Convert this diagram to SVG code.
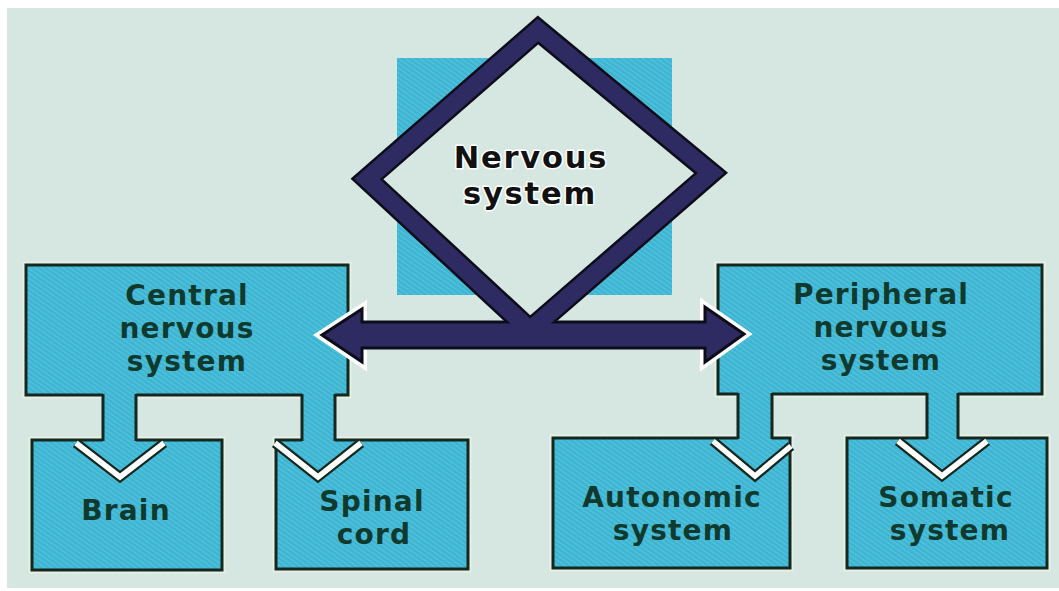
<svg xmlns="http://www.w3.org/2000/svg" width="1059" height="591" viewBox="0 0 1059 591">
<defs>
<pattern id="hatch" width="4" height="4" patternUnits="userSpaceOnUse" patternTransform="rotate(-55)">
<rect width="4" height="4" fill="#3db5d2"/>
<rect width="1.3" height="4" fill="#55c2dc"/>
</pattern>
<style>
.box{fill:url(#hatch);stroke:#14281f;stroke-width:3}
.halo{fill:none;stroke:#eef3e6;stroke-width:7;opacity:.7}
.stem{fill:url(#hatch);stroke:none}
.edge{fill:none;stroke:#14281f;stroke-width:3}
.vdark{fill:none;stroke:#14281f;stroke-width:10;stroke-linejoin:miter}
.vwhite{fill:none;stroke:#ffffff;stroke-width:5.5;stroke-linejoin:miter}
.lbl{font-family:"DejaVu Sans",sans-serif;font-weight:bold;font-size:28px;letter-spacing:1.2px;fill:#0f3a2d;text-anchor:middle}
.main{font-family:"DejaVu Sans",sans-serif;font-weight:bold;font-size:30.5px;letter-spacing:1.8px;fill:#111111;text-anchor:middle;stroke:#ffffff;stroke-width:3;paint-order:stroke;stroke-linejoin:round}
</style>
</defs>
<rect x="0" y="0" width="1059" height="591" fill="#ffffff"/>
<rect x="7" y="8" width="1052" height="580" fill="#d5e7e0"/>
<rect x="397" y="58" width="275" height="237" fill="url(#hatch)"/>

<g id="cns">
<rect class="halo" x="26" y="265" width="322" height="130"/>
<rect class="box" x="26" y="265" width="322" height="130"/>
<text class="lbl" x="187" y="305"><tspan x="187" y="305">Central</tspan><tspan x="187" y="338">nervous</tspan><tspan x="187" y="371">system</tspan></text>
</g>
<g id="pns">
<rect class="halo" x="718" y="265" width="324" height="129"/>
<rect class="box" x="718" y="265" width="324" height="129"/>
<text class="lbl" x="881" y="304"><tspan x="881" y="304">Peripheral</tspan><tspan x="881" y="337">nervous</tspan><tspan x="881" y="370">system</tspan></text>
</g>
<g id="brain">
<rect class="halo" x="32" y="440" width="190" height="130"/>
<rect class="box" x="32" y="440" width="190" height="130"/>
<text class="lbl" x="126" y="520">Brain</text>
</g>
<g id="spinal">
<rect class="halo" x="276" y="440" width="192" height="129"/>
<rect class="box" x="276" y="440" width="192" height="129"/>
<text class="lbl" x="372" y="511"><tspan x="372" y="511">Spinal</tspan><tspan x="374" y="544">cord</tspan></text>
</g>
<g id="autonomic">
<rect class="halo" x="553" y="438" width="237" height="130"/>
<rect class="box" x="553" y="438" width="237" height="130"/>
<text class="lbl" x="672" y="507"><tspan x="672" y="507">Autonomic</tspan><tspan x="673" y="540">system</tspan></text>
</g>
<g id="somatic">
<rect class="halo" x="847" y="438" width="200" height="130"/>
<rect class="box" x="847" y="438" width="200" height="130"/>
<text class="lbl" x="946" y="507"><tspan x="946" y="507">Somatic</tspan><tspan x="950" y="540">system</tspan></text>
</g>

<g id="connectors">
<rect class="stem" x="103" y="392" width="33" height="52"/>
<path class="edge" d="M103 394V441M136 394V441"/>
<path class="vdark" d="M76 443L120 477L164 443"/>
<path class="vwhite" d="M76 443L120 477L164 443"/>

<rect class="stem" x="302" y="392" width="33" height="52"/>
<path class="edge" d="M302 394V441M335 394V441"/>
<path class="vdark" d="M275 443L318 477L361 443"/>
<path class="vwhite" d="M275 443L318 477L361 443"/>

<rect class="stem" x="738" y="391" width="34" height="51"/>
<path class="edge" d="M738 393V439M772 393V439"/>
<path class="vdark" d="M713 441L755 476L791 446"/>
<path class="vwhite" d="M713 441L755 476L791 446"/>

<rect class="stem" x="927" y="391" width="31" height="51"/>
<path class="edge" d="M927 393V439M958 393V439"/>
<path class="vdark" d="M898 441L942 476L987 441"/>
<path class="vwhite" d="M898 441L942 476L987 441"/>

<path d="M362 309L322 335L362 362Z" fill="none" stroke="#ffffff" stroke-width="10" stroke-linejoin="miter"/>
<path d="M705 307L744 334L705 362Z" fill="none" stroke="#ffffff" stroke-width="10" stroke-linejoin="miter"/>
<polygon points="538,30 711,173 530,330 367,179" fill="#d5e7e0" stroke="#0d0d1a" stroke-width="22" stroke-linejoin="miter"/>
<polygon points="322,335 362,309 362,322 705,322 705,307 744,334 705,362 705,348 362,348 362,362" fill="#2e2b63" stroke="#0d0d1a" stroke-width="3" stroke-linejoin="miter"/>
<polygon points="538,30 711,173 530,330 367,179" fill="none" stroke="#2e2b63" stroke-width="17" stroke-linejoin="miter"/>
</g>

<g id="nervous">
<text class="main" x="531" y="168"><tspan x="531" y="168">Nervous</tspan><tspan x="530" y="204">system</tspan></text>
</g>
</svg>
